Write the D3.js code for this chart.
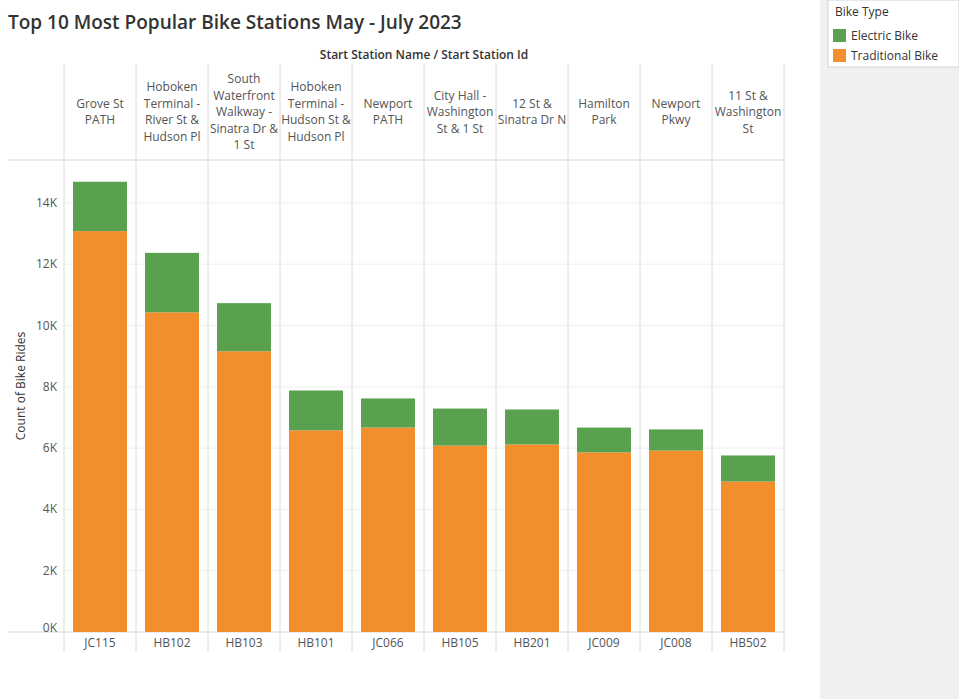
<!DOCTYPE html>
<html><head><meta charset="utf-8">
<script src="https://cdn.jsdelivr.net/npm/d3@7"></script>
<style>body{margin:0;background:#fff;font-family:"Open Sans",Lato,sans-serif}</style>
</head><body>
<svg id="c" width="959" height="699"></svg>
<script>
const stationNames = [
  ["Grove St", "PATH"],
  ["Hoboken", "Terminal -", "River St &", "Hudson Pl"],
  ["South", "Waterfront", "Walkway -", "Sinatra Dr &", "1 St"],
  ["Hoboken", "Terminal -", "Hudson St &", "Hudson Pl"],
  ["Newport", "PATH"],
  ["City Hall -", "Washington", "St & 1 St"],
  ["12 St &", "Sinatra Dr N"],
  ["Hamilton", "Park"],
  ["Newport", "Pkwy"],
  ["11 St &", "Washington", "St"]
];
const stationIds = ["JC115","HB102","HB103","HB101","JC066","HB105","HB201","JC009","JC008","HB502"];
const traditional = [13080, 10430, 9160, 6580, 6670, 6080, 6120, 5860, 5920, 4910];
const electric = [1610, 1940, 1570, 1300, 950, 1210, 1140, 810, 690, 850];
const yTicks = [0, 2000, 4000, 6000, 8000, 10000, 12000, 14000];
const legendLabels = ["Electric Bike", "Traditional Bike"];
const colors = {"Electric Bike": "#59a14f", "Traditional Bike": "#f28e2b"};

const svg = d3.select("#c");
const plotL = 64, plotR = 784, plotT = 160, plotB = 632;

svg.append("text").attr("x", 8).attr("y", 29).attr("font-size", 19).attr("font-weight", 600)
  .attr("fill", "#333").text("Top 10 Most Popular Bike Stations May - July 2023");

// right panel
svg.append("rect").attr("x", 820).attr("y", 0).attr("width", 139).attr("height", 699).attr("fill", "#f0f0f0");
svg.append("rect").attr("x", 828).attr("y", 0).attr("width", 131).attr("height", 67).attr("fill", "#fff").attr("stroke", "#d4d4d4");
svg.append("text").attr("x", 835).attr("y", 16).attr("font-size", 12).attr("fill", "#333").text("Bike Type");
legendLabels.forEach((l, i) => {
  svg.append("rect").attr("x", 833).attr("y", 29 + i * 20).attr("width", 13).attr("height", 13).attr("fill", colors[l]);
  svg.append("text").attr("x", 851).attr("y", 40 + i * 20).attr("font-size", 12).attr("fill", "#333").text(l);
});

const x = d3.scaleBand().domain(stationIds).range([plotL, plotR]).paddingInner(0.25).paddingOuter(0.125);
const y = d3.scaleLinear().domain([0, 15400]).range([plotB, plotT]);

// gridlines
svg.append("g").selectAll("line").data(yTicks.slice(1)).join("line")
  .attr("x1", plotL).attr("x2", plotR).attr("y1", d => y(d)).attr("y2", d => y(d))
  .attr("stroke", "#efefef");

// column separators
const step = x.step();
const cols = d3.range(stationIds.length + 1).map(i => plotL + i * step);
svg.append("g").selectAll("line").data(cols).join("line")
  .attr("x1", d => d).attr("x2", d => d).attr("y1", 64).attr("y2", 652)
  .attr("stroke", "#d8d8d8");
svg.append("line").attr("x1", 8).attr("x2", plotR).attr("y1", plotT).attr("y2", plotT).attr("stroke", "#d8d8d8");
svg.append("line").attr("x1", 8).attr("x2", plotR).attr("y1", plotB).attr("y2", plotB).attr("stroke", "#d8d8d8");

svg.append("text").attr("x", (plotL + plotR) / 2).attr("y", 59).attr("text-anchor", "middle")
  .attr("font-size", 12).attr("font-weight", 600).attr("fill", "#333").text("Start Station Name  /  Start Station Id");

// header names and ids
stationIds.forEach((id, i) => {
  const lines = stationNames[i];
  const cx = x(id) + x.bandwidth() / 2;
  const lh = 16.5, cy = 112;
  const t = svg.append("text").attr("text-anchor", "middle").attr("font-size", 12).attr("fill", "#555");
  lines.forEach((ln, j) => t.append("tspan").attr("x", cx)
    .attr("y", cy - (lines.length - 1) * lh / 2 + j * lh + 4).text(ln));
  svg.append("text").attr("x", cx).attr("y", 647).attr("text-anchor", "middle")
    .attr("font-size", 12).attr("fill", "#555").text(id);
});

// bars
const g = svg.append("g");
g.selectAll(".t").data(stationIds).join("rect")
  .attr("x", d => x(d)).attr("width", x.bandwidth())
  .attr("y", (d, i) => y(traditional[i])).attr("height", (d, i) => y(0) - y(traditional[i]))
  .attr("fill", colors["Traditional Bike"]);
g.selectAll(".e").data(stationIds).join("rect")
  .attr("x", d => x(d)).attr("width", x.bandwidth())
  .attr("y", (d, i) => y(traditional[i] + electric[i])).attr("height", (d, i) => y(traditional[i]) - y(traditional[i] + electric[i]))
  .attr("fill", colors["Electric Bike"]);

// y axis
svg.append("g").selectAll("text").data(yTicks).join("text")
  .attr("x", 57).attr("y", d => y(d) + 4 - (d === 0 ? 4 : 0)).attr("text-anchor", "end")
  .attr("font-size", 12).attr("fill", "#555").text(d => (d / 1000) + "K");
svg.append("text").attr("transform", "translate(25,386) rotate(-90)").attr("text-anchor", "middle")
  .attr("font-size", 12).attr("fill", "#333").text("Count of Bike Rides");
</script>
</body></html>
